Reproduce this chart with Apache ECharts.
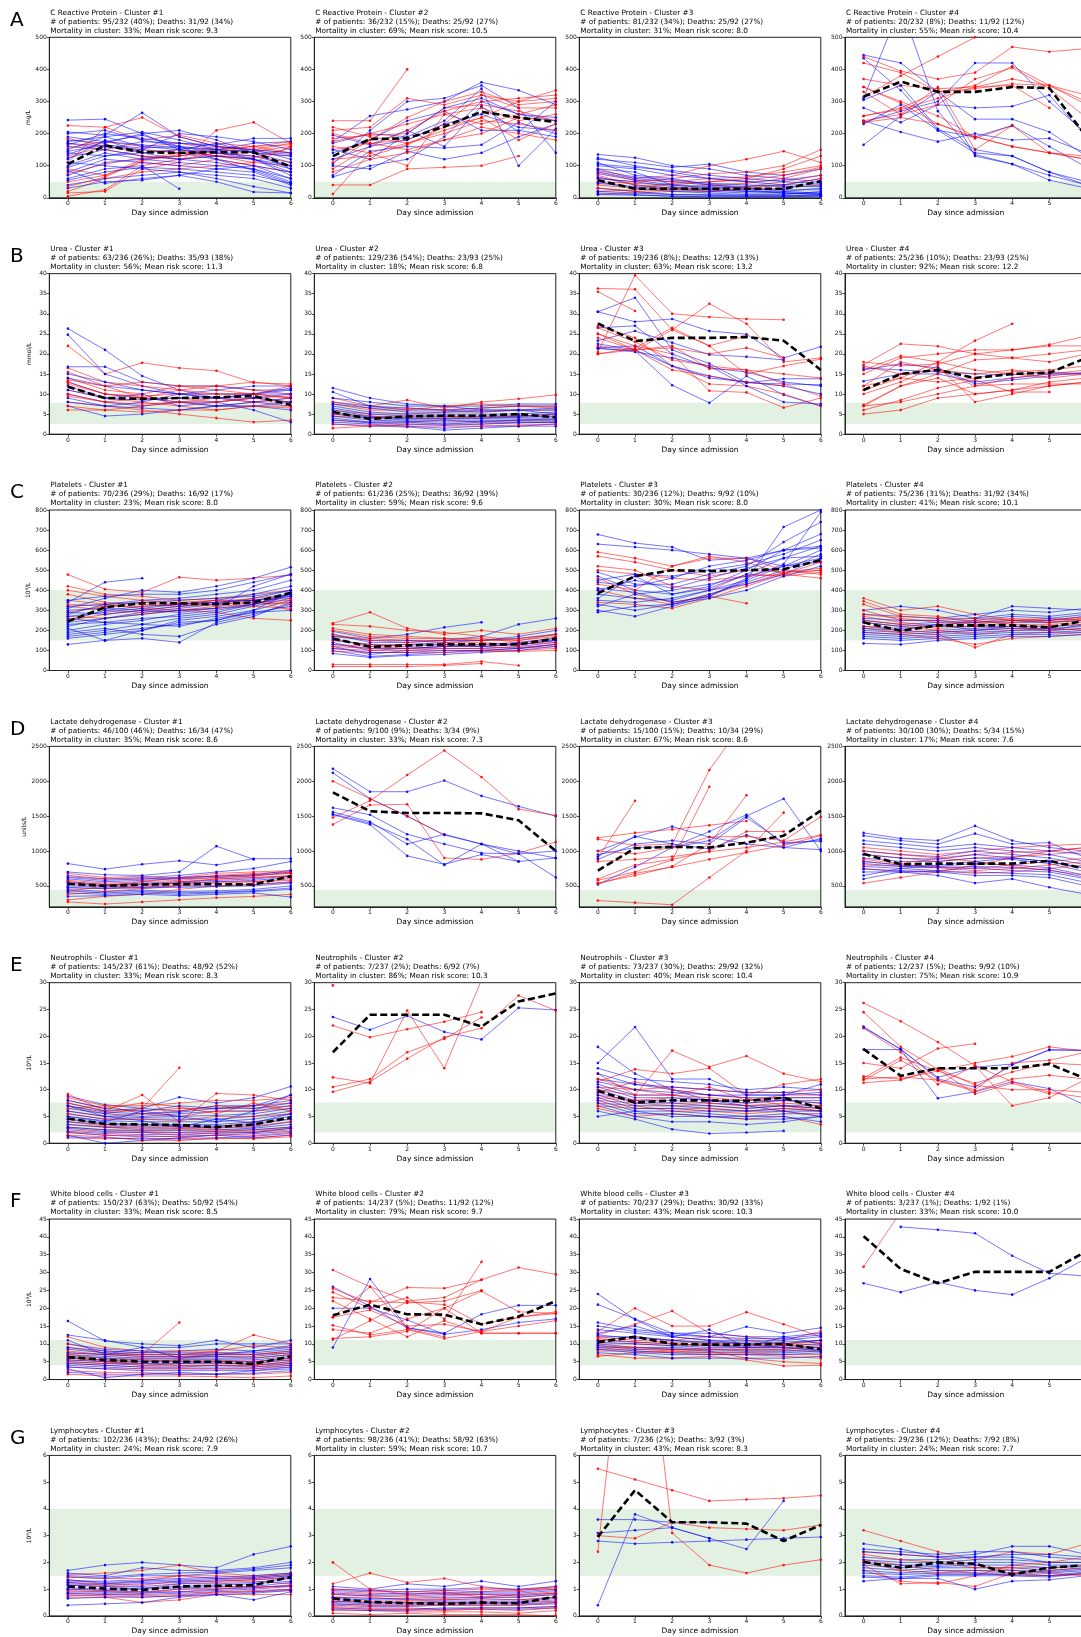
<!DOCTYPE html>
<html>
<head>
<meta charset="utf-8">
<script src="https://cdn.jsdelivr.net/npm/echarts@6/dist/echarts.min.js"></script>
<style>
  html, body { margin: 0; padding: 0; background: #fff; }
  #chart { width: 1081px; height: 1637px; }
</style>
</head>
<body>
<div id="chart"></div>
<script>
// ---- shared labels ----
const days = [0, 1, 2, 3, 4, 5, 6];
const rowLetters = ["A", "B", "C", "D", "E", "F", "G"];
const rowNames = ["C Reactive Protein", "Urea", "Platelets", "Lactate dehydrogenase", "Neutrophils", "White blood cells", "Lymphocytes"];
const rowUnits = ["mg/L", "mmol/L", "10⁹/L", "units/L", "10⁹/L", "10⁹/L", "10⁹/L"];
const rowYMin = [0, 0, 0, 200, 0, 0, 0];
const rowYMax = [500, 40, 800, 2500, 30, 45, 6];
const crpTicks = [0, 100, 200, 300, 400, 500];
const ureaTicks = [0, 5, 10, 15, 20, 25, 30, 35, 40];
const pltTicks = [0, 100, 200, 300, 400, 500, 600, 700, 800];
const ldhTicks = [500, 1000, 1500, 2000, 2500];
const neuTicks = [0, 5, 10, 15, 20, 25, 30];
const wbcTicks = [0, 5, 10, 15, 20, 25, 30, 35, 40, 45];
const lymTicks = [0, 1, 2, 3, 4, 5, 6];
// normal reference range (green band)
const normalLow = [0, 2.5, 150, 200, 2.0, 4.0, 1.5];
const normalHigh = [50, 7.8, 400, 440, 7.6, 11.1, 4.0];

const patientStats = [
  ["# of patients: 95/232 (40%); Deaths: 31/92 (34%)", "# of patients: 36/232 (15%); Deaths: 25/92 (27%)", "# of patients: 81/232 (34%); Deaths: 25/92 (27%)", "# of patients: 20/232 (8%); Deaths: 11/92 (12%)"],
  ["# of patients: 63/236 (26%); Deaths: 35/93 (38%)", "# of patients: 129/236 (54%); Deaths: 23/93 (25%)", "# of patients: 19/236 (8%); Deaths: 12/93 (13%)", "# of patients: 25/236 (10%); Deaths: 23/93 (25%)"],
  ["# of patients: 70/236 (29%); Deaths: 16/92 (17%)", "# of patients: 61/236 (25%); Deaths: 36/92 (39%)", "# of patients: 30/236 (12%); Deaths: 9/92 (10%)", "# of patients: 75/236 (31%); Deaths: 31/92 (34%)"],
  ["# of patients: 46/100 (46%); Deaths: 16/34 (47%)", "# of patients: 9/100 (9%); Deaths: 3/34 (9%)", "# of patients: 15/100 (15%); Deaths: 10/34 (29%)", "# of patients: 30/100 (30%); Deaths: 5/34 (15%)"],
  ["# of patients: 145/237 (61%); Deaths: 48/92 (52%)", "# of patients: 7/237 (2%); Deaths: 6/92 (7%)", "# of patients: 73/237 (30%); Deaths: 29/92 (32%)", "# of patients: 12/237 (5%); Deaths: 9/92 (10%)"],
  ["# of patients: 150/237 (63%); Deaths: 50/92 (54%)", "# of patients: 14/237 (5%); Deaths: 11/92 (12%)", "# of patients: 70/237 (29%); Deaths: 30/92 (33%)", "# of patients: 3/237 (1%); Deaths: 1/92 (1%)"],
  ["# of patients: 102/236 (43%); Deaths: 24/92 (26%)", "# of patients: 98/236 (41%); Deaths: 58/92 (63%)", "# of patients: 7/236 (2%); Deaths: 3/92 (3%)", "# of patients: 29/236 (12%); Deaths: 7/92 (8%)"]
];
const mortalityStats = [
  ["Mortality in cluster: 33%; Mean risk score: 9.3", "Mortality in cluster: 69%; Mean risk score: 10.5", "Mortality in cluster: 31%; Mean risk score: 8.0", "Mortality in cluster: 55%; Mean risk score: 10.4"],
  ["Mortality in cluster: 56%; Mean risk score: 11.3", "Mortality in cluster: 18%; Mean risk score: 6.8", "Mortality in cluster: 63%; Mean risk score: 13.2", "Mortality in cluster: 92%; Mean risk score: 12.2"],
  ["Mortality in cluster: 23%; Mean risk score: 8.0", "Mortality in cluster: 59%; Mean risk score: 9.6", "Mortality in cluster: 30%; Mean risk score: 8.0", "Mortality in cluster: 41%; Mean risk score: 10.1"],
  ["Mortality in cluster: 35%; Mean risk score: 8.6", "Mortality in cluster: 33%; Mean risk score: 7.3", "Mortality in cluster: 67%; Mean risk score: 8.6", "Mortality in cluster: 17%; Mean risk score: 7.6"],
  ["Mortality in cluster: 33%; Mean risk score: 8.3", "Mortality in cluster: 86%; Mean risk score: 10.3", "Mortality in cluster: 40%; Mean risk score: 10.4", "Mortality in cluster: 75%; Mean risk score: 10.9"],
  ["Mortality in cluster: 33%; Mean risk score: 8.5", "Mortality in cluster: 79%; Mean risk score: 9.7", "Mortality in cluster: 43%; Mean risk score: 10.3", "Mortality in cluster: 33%; Mean risk score: 10.0"],
  ["Mortality in cluster: 24%; Mean risk score: 7.9", "Mortality in cluster: 59%; Mean risk score: 10.7", "Mortality in cluster: 43%; Mean risk score: 8.3", "Mortality in cluster: 24%; Mean risk score: 7.7"]
];

// ---- C reactive protein ----
const crp1Blue = [
  [242, 245, 200, 150, 130, 120, 100], [205, 195, 265, 190, 160, 150, 120], [180, 170, 200, 210, 180, 140, 90],
  [160, 150, 175, 170, 165, 185, 185], [140, 130, 150, 140, 120, 100, 60], [120, 180, 140, 120, 110, 90, 50],
  [100, 140, 120, 130, 150, 170, 175], [80, 120, 110, 100, 90, 80, 40], [60, 90, 100, 28, null, null, null],
  [40, 60, 70, 80, 60, 35, 15], [30, 50, 55, 70, 50, 18, 15], [200, 210, 180, 160, 140, 120, 80],
  [150, 190, 160, 150, 170, 140, 130], [110, 100, 90, 80, 70, 60, 30], [170, 160, 150, 200, 190, 175, 150],
  [190, 175, 165, 155, 150, 145, 135], [165, 200, 185, 170, 160, 150, 140], [145, 165, 155, 160, 150, 140, 110],
  [125, 150, 130, 120, 130, 120, 90], [95, 130, 140, 150, 140, 130, 100], [70, 110, 120, 110, 100, 90, 60],
  [55, 80, 95, 90, 80, 70, 45], [85, 45, 60, 70, 90, 100, 80], [175, 190, 205, 180, 150, 120, 70],
  [135, 175, 195, 160, 120, 85, 45]
];
const crp1Red = [
  [225, 220, 250, 190, 160, 140, 130], [15, 20, 90, 110, 210, 235, 170], [5, 25, 100, 120, 130, 145, 160],
  [90, 70, 120, 140, 150, 160, 175], [170, 150, 130, 120, 140, 130, 110], [130, 160, 140, 150, 130, 110, 100],
  [50, 70, 110, 100, 120, 100, 80], [20, 60, 80, 90, 100, 110, 160], [110, 220, 180, 195, 170, 160, 140],
  [155, 175, 160, 170, 150, 160, 165], [75, 105, 125, 130, 145, 150, 170], [35, 65, 115, 135, 160, 150, 140],
  [185, 160, 150, 140, 130, 125, 155]
];
const crp1Mean = [105, 163, 142, 140, 142, 142, 97];

const crp2Blue = [
  [175, 255, 275, 300, 360, 335, 290], [105, 210, 300, 310, 350, 280, 140], [70, 145, 160, 155, 165, 235, 200],
  [100, 90, 145, 120, 140, 190, 230], [170, 200, 190, 240, 340, 100, 215], [140, 180, 240, 270, 210, 210, 190],
  [65, 100, 120, 190, 300, 260, 250], [195, 165, 210, 160, 285, 205, 300], [120, 160, 180, 230, 260, 220, 210],
  [150, 120, 200, 280, 310, 260, 240]
];
const crp2Red = [
  [240, 240, 400, null, null, null, null], [40, 40, 90, 95, 100, 130, null], [12, 140, 170, 210, 250, 300, 335],
  [210, 220, 310, 290, 320, 300, 310], [185, 195, 200, 280, 290, 270, 240], [150, 170, 180, 230, 320, 280, 280],
  [120, 130, 165, 220, 250, 180, 230], [90, 160, 210, 270, 300, 310, 320], [200, 170, 150, 180, 200, 250, 240],
  [160, 140, 100, 260, 230, 260, 290], [175, 200, 230, 260, 280, 240, 260], [110, 180, 250, 300, 330, 290, 300],
  [220, 190, 170, 200, 240, 230, 210], [80, 120, 140, 180, 220, 200, 180]
];
const crp2Mean = [130, 183, 185, 222, 268, 250, 236];

const crp3Blue = [
  [135, 125, 100, 90, 70, 60, 50], [120, 110, 95, 105, 80, 70, 90], [100, 90, 70, 60, 50, 55, 70],
  [80, 60, 50, 40, 35, 40, 60], [65, 40, 30, 25, 20, 20, 30], [50, 30, 20, 15, 10, 10, 20],
  [30, 20, 10, 8, 5, 5, 10], [15, 10, 5, 3, 3, 3, 5], [110, 70, 60, 40, 30, 20, 15], [90, 80, 40, 30, 25, 15, 10],
  [125, 100, 80, 60, 50, 40, 40], [105, 95, 85, 70, 60, 50, 45], [75, 55, 40, 35, 30, 25, 25],
  [45, 35, 25, 20, 15, 15, 15], [20, 15, 10, 10, 8, 8, 8], [60, 50, 35, 25, 20, 15, 12],
  [85, 65, 55, 45, 40, 35, 35], [10, 8, 5, 5, 5, 5, 5]
];
const crp3Red = [
  [90, 60, 70, 100, 120, 145, 110], [60, 50, 60, 75, 80, 100, 150], [40, 30, 45, 50, 60, 90, 130],
  [20, 25, 30, 40, 45, 60, 90], [10, 15, 20, 20, 30, 40, 60], [70, 40, 30, 20, 25, 30, 40],
  [50, 45, 40, 50, 55, 70, 95], [30, 20, 25, 30, 35, 50, 70], [80, 55, 50, 60, 65, 80, 100]
];
const crp3Mean = [55, 28, 28, 28, 28, 28, 52];

const crp4Blue = [
  [445, 420, 330, 130, 105, 55, 30], [435, 335, 210, 140, 130, 80, 40], [310, 600, 270, 135, 105, 70, 40],
  [280, 235, 290, 280, 285, 320, 190], [235, 270, 300, 420, 420, 300, 200], [165, 255, 330, 245, 245, 205, 130],
  [240, 205, 175, 200, 180, 185, 140], [230, 290, 210, 190, 225, 160, 95], [305, 350, 215, 150, 130, 80, 50]
];
const crp4Red = [
  [315, 380, 440, 500, 560, null, null], [440, 395, 370, 390, 470, 455, 465], [420, 390, 330, 350, 410, 350, 300],
  [370, 350, 340, 345, 370, 350, 320], [345, 300, 255, 190, 160, 140, 120], [345, 295, 230, 185, 225, null, null],
  [255, 275, 310, 345, 350, 280, null], [240, 260, 290, 370, 405, 340, 250], [330, 260, 345, 150, 225, 140, 130],
  [255, 280, 330, 340, 355, 350, 290], [235, 250, 230, 190, 160, 140, 120]
];
const crp4Mean = [315, 362, 330, 330, 345, 342, 190];

// ---- urea ----
const urea1Blue = [
  [26.3, 21, 14.5, 11, 9, 8, 7], [24.8, 15, 12, 10, 11, 12, 12], [16.8, 16.8, 13, 12, 12, 11, 11],
  [13, 10, 9, 8, 8, 9, 10], [10, 8, 7, 8, 7, 7, 8], [7, 4.5, 5, 6, 7, 7, 6], [9, 7, 8, 10, 9, 10, 11.5],
  [12, 9, 10, 7, 8, 6, 3], [15, 13, 11, 10, 10, 10, 10], [11, 9, 8.5, 9, 9, 10, 11],
  [8, 7, 6.5, 6, 7, 8, 9], [14, 12, 11, 10, 9, 9, 8]
];
const urea1Red = [
  [22, 15, 17.8, 16.5, 15.8, 12.8, 12.5], [16.5, 13, 12, 11, 10, 10, 9], [14, 11, 10, 12, 12, 11, 10],
  [13, 10, 9, 8, 7, 8, 9], [11, 9, 8, 7, 6, 7, 7], [8, 7, 6, 5, 4, 3, 3.5], [6, 6, 7, 8, 9, 8, 8],
  [15.5, 12, 9, 9, 8, 9, 8], [10, 8, 9, 11, 12, 13, 12], [12.5, 10, 9.5, 10, 10, 10, 9],
  [9.5, 8, 7.5, 8, 8, 9, 9.5], [13.5, 12, 13, 12, 11, 10, 12], [7, 6, 5.5, 6, 6, 7, 6.5]
];
const urea1Mean = [11.8, 9, 8.8, 9, 9.2, 9.5, 7.3];

const urea2Blue = [
  [11.5, 9, 7.5, 7, 7, 7.5, 7.5], [10.5, 7, 6, 6, 5.5, 6, 5], [8, 7, 6.5, 6, 6.5, 7, 7],
  [7, 5.5, 5, 5, 5, 5, 5.5], [6, 4.5, 4, 4, 4, 4, 4], [5, 4, 3.5, 3.5, 3.5, 3.5, 3.5],
  [4, 3, 3, 2.5, 3, 3, 3], [3, 2.5, 2, 1.5, 2, 2, 2], [2.5, 2, 1.8, 1, 1.5, 2, 2.5],
  [9, 8, 7, 7, 6, 6, 6.5], [7.5, 6.5, 5.5, 5.5, 6, 6, 6], [6.5, 5, 4.5, 4.5, 4.5, 4.5, 5],
  [5.5, 4.2, 3.8, 3.8, 4, 4.2, 4.5], [4.5, 3.5, 3.2, 3, 3.2, 3.5, 3.8], [3.5, 2.8, 2.5, 2.2, 2.5, 2.8, 3]
];
const urea2Red = [
  [9, 7, 8.5, 6.5, 8, 8.8, 9.8], [7.5, 6, 6, 7, 7.5, 7, 6.5], [6, 5, 5, 5.5, 5.5, 6, 6],
  [4.5, 4, 4.5, 4.5, 4, 4.5, 5], [3.5, 3, 3, 3.5, 3, 3.5, 3.5], [1.5, 2, 2.5, 2.5, 2.5, 3, 3],
  [8, 6.5, 6.5, 6, 6.5, 7, 7], [5, 4.5, 4, 4, 4.5, 4.5, 4.5], [2.5, 2.2, 2, 2, 2, 2.3, 2.5]
];
const urea2Mean = [5.5, 3.8, 4.4, 4.6, 4.6, 5, 4.2];

const urea3Blue = [
  [30.5, 34, 21, 17.6, 12.8, 12.5, 12.3], [30.5, 28, 28.7, 25.7, 24.9, 19, 21.8], [21.5, 22, 17, 14.5, 12.8, 13.8, 13.8],
  [23.3, 25.7, 22.8, 19.8, 19.3, 18.5, null], [21.3, 20.8, 12.2, 7.8, 14.5, 9.8, 7], [26.5, 27, 20, 16.5, 15.5, 13, 12],
  [21.5, 20.5, 19, 17, 12, 8, 7.5], [22.5, 21, 17, 14, 13, 12, 10]
];
const urea3Red = [
  [36.3, 36.1, 26, 32.5, 27.5, 18, 19], [35.5, 30.7, null, null, null, null, null], [20.5, 39.6, 30, 29.2, 28.7, 28.5, null],
  [25, 22, 20, 10.8, 10.4, 6.6, 9], [27, 24, 17, 12.5, 12, 10, 7], [20, 21, 22, 16.3, 16, 12.5, 9.5],
  [22, 20.8, 26, 22, 15, 17, 18.7], [24, 21, 21.5, 20, 21.5, 19, null], [26.5, 23, 18.5, 17, 16, 15, 14],
  [20, 21.5, 26.5, 22, 24.5, null, null], [25, 21, 16, 14.5, 13, 12, null]
];
const urea3Mean = [27.6, 23.2, 24, 24, 24.2, 23.3, 16];

const urea4Blue = [
  [16, 17.5, 16.5, 12.5, 13.5, 14.5, 15.5], [13.2, 15, 15, 13, 14, 15, 15], [16.5, 16, 15.5, 15, 14.8, 15.5, 15]
];
const urea4Red = [
  [18, 17, 17.5, 20, 21, 22.3, 24.5], [16, 19.5, 18, 23.3, 27.5, null, null], [17, 15, 16, 15, 16, 15, 15],
  [15, 19, 20, 21, 21, 22, 22], [12, 18, 16, 12, 12.5, 12.5, 12.5], [11, 14, 13, 14, 15.5, 16, 17],
  [7.3, 12, 15, 18.5, 19, 20, 21], [7, 8, 10, 12, 14, 15, 16], [6, 8.5, 11.5, 13.5, 10.5, 10.5, null],
  [5, 6, 9, 10, 11, 12, 13], [7, 12, 14, 10, 11, 13, 14], [12, 14, 18, 16, 15, 14, 15],
  [10, 13, 17, 8, 10, 12, 13], [17.3, 22.5, 21.9, 20, 19, 18, 20]
];
const urea4Mean = [11, 15, 16, 14, 15, 15.3, 19];

// ---- platelets ----
const plt1Blue = [
  [130, 150, 160, 140, 240, 280, 330], [160, 180, 200, 250, 270, 300, 350], [180, 200, 230, 260, 280, 320, 360],
  [200, 230, 250, 280, 300, 330, 380], [220, 260, 290, 310, 330, 360, 400], [250, 300, 320, 330, 350, 380, 420],
  [280, 330, 350, 360, 380, 400, 450], [310, 360, 400, 390, 420, 460, 515], [340, 440, 460, null, null, null, null],
  [260, 240, 230, 220, 260, 290, 300], [190, 210, 180, 170, 230, 270, 340], [300, 310, 300, 320, 340, 350, 370],
  [240, 260, 280, 300, 310, 420, 480], [210, 150, 200, 240, 250, 300, 390], [230, 240, 260, 270, 290, 330, 370],
  [270, 290, 310, 330, 340, 350, 380], [320, 330, 340, 350, 360, 370, 400], [170, 190, 210, 230, 250, 290, 320],
  [290, 280, 300, 290, 310, 330, 380], [350, 370, 380, 380, 400, 440, 480]
];
const plt1Red = [
  [478, 405, 390, 465, 450, 460, 475], [420, 380, 370, 350, 360, 380, 400], [380, 340, 330, 320, 330, 340, 330],
  [350, 330, 310, 300, 310, 320, 310], [320, 300, 290, 300, 290, 260, 250], [290, 320, 340, 330, 350, 350, 300],
  [270, 260, 280, 300, 320, 330, 340], [330, 320, 320, 330, 340, 360, 380], [250, 280, 300, 320, 330, 340, 350],
  [400, 370, 350, 340, 350, 350, 360]
];
const plt1Mean = [245, 315, 335, 335, 330, 340, 388];

const plt2Blue = [
  [195, 160, 180, 215, 240, null, null], [180, 140, 140, 150, 170, 230, 260], [160, 120, 130, 140, 150, 170, 200],
  [140, 100, 110, 120, 130, 140, 160], [120, 80, 100, 110, 110, 120, 140], [100, 70, 80, 90, 100, 110, 130],
  [85, 65, 75, 80, 90, 100, 120], [150, 130, 120, 130, 120, 130, 150], [170, 150, 150, 150, 150, 160, 180],
  [130, 110, 110, 120, 120, 130, 150], [110, 90, 90, 100, 100, 110, 130]
];
const plt2Red = [
  [235, 290, 210, 180, 200, 180, 210], [230, 220, 200, 190, 170, 150, 180], [210, 180, 170, 160, 160, 140, 160],
  [170, 160, 150, 140, 140, 130, 150], [130, 120, 110, 120, 120, 110, 120], [110, 100, 100, 100, 100, 100, 110],
  [95, 90, 90, 90, 95, 95, 100], [30, 30, 30, 30, 45, 25, null], [20, 20, 20, 25, 35, null, null],
  [200, 170, 160, 160, 150, 160, 180], [150, 130, 130, 130, 130, 130, 140], [120, 110, 110, 110, 110, 115, 130],
  [180, 150, 140, 150, 150, 150, 170]
];
const plt2Mean = [160, 118, 125, 130, 130, 130, 160];

const plt3Blue = [
  [678, 635, 615, 550, 560, 600, 620], [630, 615, 600, 580, 560, 520, 540], [490, 430, 430, 480, 520, 640, 740],
  [470, 400, 380, 420, 500, 600, 680], [410, 390, 340, 370, 460, 530, 790], [380, 360, 350, 400, 450, 520, 600],
  [350, 340, 360, 400, 430, 480, 560], [330, 300, 330, 380, 440, 500, 580], [300, 270, 320, 370, 450, 715, 800],
  [290, 320, 330, 360, 400, 470, 520], [440, 420, 460, 520, 550, 600, 610], [360, 470, 380, 410, 480, 560, 570],
  [320, 380, 400, 430, 470, 520, 560], [400, 450, 410, 460, 510, 560, 620], [450, 480, 470, 500, 530, 580, 650]
];
const plt3Red = [
  [590, 560, 520, 570, 540, 480, 460], [570, 540, 500, 470, 500, 490, 500], [520, 500, 420, 400, 480, 470, 490],
  [460, 380, 340, 370, 335, null, null], [400, 360, 330, 380, 430, 490, 510], [340, 330, 310, 360, 420, 480, 540],
  [430, 400, 520, 560, 560, 500, 480], [500, 480, 460, 450, 470, 480, 500]
];
const plt3Mean = [385, 470, 500, 495, 500, 505, 550];

const plt4Blue = [
  [300, 320, 300, 260, 320, 310, 300], [280, 270, 260, 280, 300, 290, 310], [250, 230, 240, 250, 270, 260, 280],
  [220, 210, 220, 220, 240, 240, 250], [200, 190, 200, 210, 220, 220, 230], [180, 170, 180, 190, 200, 200, 210],
  [160, 150, 160, 170, 180, 180, 190], [135, 130, 150, 160, 170, 170, 180], [210, 200, 230, 200, 220, 200, 230],
  [260, 250, 250, 260, 280, 270, 290], [240, 220, 230, 240, 250, 250, 270], [190, 180, 190, 200, 210, 210, 220],
  [170, 160, 170, 180, 190, 190, 200]
];
const plt4Red = [
  [360, 300, 320, 280, 250, 260, 250], [345, 280, 270, 240, 260, 250, 270], [300, 250, 250, 230, 250, 240, 260],
  [270, 240, 220, 250, 230, 230, 240], [240, 220, 200, 180, 200, 210, 200], [210, 190, 180, 115, 180, 190, 190],
  [190, 180, 160, 130, 160, 170, 180], [280, 260, 240, 240, 240, 250, 260], [250, 230, 210, 220, 220, 220, 230],
  [220, 200, 190, 200, 210, 200, 210], [330, 270, 260, 260, 250, 240, 250]
];
const plt4Mean = [240, 198, 225, 225, 225, 215, 250];

// ---- lactate dehydrogenase ----
const ldh1Blue = [
  [820, 740, 810, 860, 800, 890, 890], [700, 660, 650, 700, 1070, 880, null], [650, 600, 620, 650, 700, 750, 850],
  [600, 560, 580, 600, 620, 640, 700], [560, 520, 540, 560, 580, 600, 640], [500, 480, 480, 500, 500, 520, 560],
  [450, 420, 440, 420, 430, 450, 500], [400, 380, 400, 380, 400, 420, 450], [350, 360, 380, 360, 380, 400, 340],
  [620, 580, 600, 620, 640, 660, 720], [540, 500, 520, 540, 560, 580, 620], [480, 460, 470, 480, 490, 500, 540],
  [430, 400, 420, 400, 410, 430, 470]
];
const ldh1Red = [
  [680, 620, 640, 600, 650, 680, 700], [580, 540, 560, 620, 680, 700, 720], [520, 500, 480, 520, 560, 560, 600],
  [470, 460, 500, 540, 600, 620, 650], [420, 500, 560, 580, 620, 650, 680], [300, 350, 380, 450, 500, 520, 550],
  [270, 240, 270, 300, 330, 350, 380], [630, 600, 600, 620, 640, 660, 680], [560, 520, 520, 560, 600, 620, 640],
  [380, 420, 460, 500, 540, 560, 580]
];
const ldh1Mean = [530, 500, 520, 525, 525, 520, 640];

const ldh2Blue = [
  [2180, 1850, 1850, 2010, 1790, 1640, 1500], [2120, 1750, 1500, 1230, 1100, 960, 1000], [1620, 1520, 1240, 1100, 970, 960, 620],
  [1530, 1400, 1170, 800, 1100, 850, 900], [1520, 1380, 930, 810, 950, 850, null], [1560, 1420, 1100, 1240, 1100, 1000, 900]
];
const ldh2Red = [
  [1380, 1660, 1670, 900, 880, 970, 1130], [1480, 1720, 2090, 2440, 2060, 1600, 1510], [2000, 1750, 1500, 1230, null, null, null]
];
const ldh2Mean = [1840, 1570, 1545, 1545, 1540, 1440, 1000];

const ldh3Blue = [
  [1000, 1200, 1350, 1200, 1100, 1050, 1020], [950, 1050, 1060, 1280, 1520, 1100, 1160], [520, 770, 1050, 1150, 1500, 1750, 1000],
  [920, 1210, 1100, 1030, 1230, 1050, 1180], [880, 1100, 1150, 1100, 1480, 1120, 1140]
];
const ldh3Red = [
  [1190, 1260, 1310, 1370, 1430, null, null], [1170, 1080, 1100, 2160, 2900, null, null], [900, 1720, null, null, null, null, null],
  [580, 700, 870, 1920, null, null, null], [540, 650, 780, 1100, 1800, null, null], [600, 800, 880, 1000, 1280, 1280, null],
  [290, 260, 230, 620, 1000, 1550, null], [530, 680, 770, 880, 980, 1080, 1220], [850, 880, 920, 990, 1050, 1130, 1230],
  [1000, 960, 1050, 1200, 1210, 1150, 1490]
];
const ldh3Mean = [720, 1040, 1060, 1050, 1120, 1220, 1580];

const ldh4Blue = [
  [1260, 1180, 1150, 1360, 1150, 1050, 1000], [1220, 1150, 1100, 1250, 1100, 1120, 900], [1100, 1050, 1000, 1050, 1000, 950, 850],
  [1000, 950, 920, 1000, 950, 900, 800], [900, 850, 850, 900, 880, 820, 700], [850, 800, 780, 820, 800, 760, 650],
  [780, 750, 720, 760, 720, 700, 600], [700, 700, 700, 650, 650, 620, 500], [600, 700, 650, 540, 600, 480, 380],
  [650, 750, 800, 850, 900, 850, 750], [1150, 1100, 1050, 1100, 1050, 1000, 950], [950, 900, 880, 950, 900, 850, 750],
  [820, 780, 760, 780, 760, 730, 620], [740, 720, 700, 700, 680, 660, 550]
];
const ldh4Red = [
  [1050, 1000, 950, 1000, 1050, 1080, 1100], [950, 900, 850, 900, 920, 950, 1000], [850, 800, 780, 750, 800, 850, 900],
  [750, 700, 720, 680, 700, 750, 800], [540, 620, 700, 800, 900, 1000, 1050], [880, 820, 900, 850, 780, 720, 650],
  [1000, 950, 900, 950, 980, 1000, 1050], [800, 780, 760, 720, 750, 800, 850]
];
const ldh4Mean = [960, 810, 820, 820, 820, 860, 740];

// ---- neutrophils ----
const neu1Blue = [
  [8.8, 7.2, 6.5, 8.6, 7.5, 8.5, 10.6], [7.5, 6, 6.5, 6, 7, 7, 8], [6.5, 5.5, 5, 5.5, 6, 6, 7],
  [5.5, 4.5, 4.5, 4.5, 4.5, 5, 6], [4.5, 3.8, 3.5, 3.5, 3.5, 4, 5], [3.5, 3, 2.8, 2.8, 3, 3, 4],
  [2.8, 2.2, 2, 2, 2.2, 2.5, 3], [2, 1.5, 1.2, 1.3, 1.5, 1.8, 2.2], [1.5, 0, 0.5, 1, 1.5, 1, 1.5],
  [5, 4, 6, 5, 4, 6, 9], [7, 5, 4.2, 3, 4.5, 3.8, 5.5], [8, 6.5, 6, 7, 6.5, 7, 9],
  [7, 5.8, 5.5, 5.8, 6.5, 6.5, 7.5], [6, 5, 4.8, 5, 5.2, 5.5, 6.5], [5, 4.2, 4, 4, 4, 4.5, 5.5],
  [4, 3.5, 3.2, 3.2, 3.2, 3.5, 4.5], [3, 2.5, 2.4, 2.4, 2.5, 2.8, 3.5], [2.2, 1.8, 1.6, 1.7, 1.8, 2, 2.8],
  [1.2, 1, 0.8, 0.9, 1, 1.3, 1.8]
];
const neu1Red = [
  [9.2, 6, 9, 4, 9.3, 9, 8], [7, 5.5, 6.5, 14.1, null, null, null], [6, 5, 5.5, 5, 6, 6, 6.5],
  [4.5, 3.5, 3.5, 3, 3, 4, 4.5], [3.5, 3, 2.5, 2.5, 2.5, 2.5, 3], [2.5, 2, 2, 1.5, 2, 2, 2.5],
  [1, 0.8, 1, 0.5, 1, 0.8, 1.2], [6.5, 7, 5.5, 6, 7, 6.5, 7], [8, 6.5, 7.5, 6.8, 5.5, 7.5, 6],
  [8.5, 7, 7, 7.5, 8, 8, 8.5], [7.5, 6, 6, 6.5, 6.5, 7, 7.5], [5.5, 4.5, 4.5, 4.2, 5, 5, 5.5],
  [4, 3.2, 3, 2.8, 2.8, 3.2, 4], [3, 2.5, 2.2, 2, 2.2, 2.2, 2.8], [2, 1.5, 1.4, 1.2, 1.5, 1.5, 2],
  [1.5, 1.2, 0.5, 0.6, 0.8, 1, 1.5]
];
const neu1Mean = [4.6, 3.6, 3.5, 3.4, 3.0, 3.5, 4.8];

const neu2Blue = [
  [23.6, 21.2, 23.8, 20.8, 19.4, 25.3, 24.9]
];
const neu2Red = [
  [22, 19.8, 21.3, 22.7, 24.5, null, null], [29.5, null, null, null, null, null, null], [12.3, 11.2, 24.8, 14, 30.5, null, null],
  [10.5, 12, 17, 19.5, 23.5, null, null], [9.6, 11.5, 15.8, 19.8, 21.5, 27.6, 24.8]
];
const neu2Mean = [17, 24, 24, 24, 21.8, 26.5, 28];

const neu3Blue = [
  [18, 13, 10, 8, 7, 6, 5], [15, 21.7, 12, 12, 9, 9, 11], [14, 12, 11.5, 11, 10, 10.5, 10],
  [12, 11, 10, 9, 9, 9, 9.5], [11, 9, 9, 8, 8, 8, 8], [10, 8, 8, 7.5, 7, 7, 7],
  [9, 7, 7, 6.5, 6, 6.5, 6], [8, 6, 6, 5.5, 5, 5.5, 5.5], [7, 5, 4, 4, 3.5, 4, 5],
  [6, 4.5, 2.6, 1.8, 2, 2.3, null], [5, 6, 5, 5, 5, 5, 4], [13, 11, 10.5, 10, 9.5, 9.5, 9],
  [11.5, 10, 9.5, 9, 8.5, 8.5, 8.5], [10.5, 8.5, 8.5, 8, 7.5, 8, 7.5], [9.5, 7.5, 7.5, 7, 6.5, 7, 6.5],
  [8.5, 6.5, 6.5, 6, 6, 6, 6], [7.5, 5.5, 5.5, 5, 4.5, 4.5, 5]
];
const neu3Red = [
  [13, 9, 17.3, 14.3, 16.3, 13, 11.5], [11.5, 13.8, 13, 14, 9, 11, 12], [10.5, 10, 9, 10.5, 8, 9, 9],
  [9, 8, 8.5, 8, 7.5, 8, 7.5], [8, 7.5, 7, 7, 6.5, 7, 6.5], [7.5, 7, 6, 6, 5.5, 6, 5],
  [6.5, 5, 5.5, 5, 4.5, 5, 3.5], [9.5, 11.5, 10, 9, 8.5, 7, 6], [12, 10, 10.5, 10, 9.5, 9.5, 10],
  [10, 9, 9, 8.5, 8, 8.5, 8.5], [8.5, 8, 7.5, 7.5, 7, 7.5, 7], [7, 6.5, 6.5, 6.5, 6, 6.5, 6]
];
const neu3Mean = [9.8, 7.6, 8, 8, 7.9, 8.5, 6.5];

const neu4Blue = [
  [21.8, 17.5, 8.4, 9.6, 11.5, 10.2, 7], [21.6, 17.6, 12, 10.5, 14.6, 17.5, 17.4], [17.5, 17.5, 12.3, 14.2, 14.8, 17.4, 17.3]
];
const neu4Red = [
  [26.2, 22.8, 18.9, 14.5, 11.5, 9.5, 8.5], [24.5, 18, 13.8, 9.2, 11.2, 9.2, null], [21.5, 17, 11, 14.5, 7, 8.5, 12],
  [15, 14, 17.7, 18.6, null, null, null], [12.5, 12, 13.5, 15, 16.2, 18, 17.2], [12.2, 16, 13.5, 11.2, 13.3, 15, 14.6],
  [11.3, 11.8, 14, 10.8, 10, 10, 9.5], [11.8, 15.5, 11.7, 9.7, 12, 12.7, 12], [12, 12.4, 11.8, 10, 15, 15.5, 17]
];
const neu4Mean = [17.6, 12.6, 14, 14, 14, 14.8, 12];

// ---- white blood cells ----
const wbc1Blue = [
  [16.4, 10.8, 10, 9.5, 11, 9, 11], [12.5, 11, 9, 9, 10, 10, 10], [10, 8.5, 8, 8, 8.5, 8, 9],
  [8.5, 7.5, 7, 7, 7, 7, 8], [7, 6.5, 6, 6, 6, 6, 7], [6, 5.5, 5, 5, 5, 5, 6],
  [5, 4.5, 4, 4, 4, 4, 5], [4, 3.5, 3, 3, 3, 3, 4], [3, 0.5, 1.5, 2, 1.5, 2.5, 3],
  [11, 7, 9, 6, 7, 8, 9.5], [9, 8, 7.5, 7.5, 7.5, 7.5, 8.5], [7.5, 7, 6.5, 6.5, 6.5, 6.5, 7.5],
  [6.5, 6, 5.5, 5.5, 5.5, 5.5, 6.5], [5.5, 5, 4.5, 4.5, 4.5, 4.5, 5.5], [4.5, 4, 3.5, 3.5, 3.5, 3.5, 4.5],
  [3.5, 3, 2.5, 2.5, 2.5, 2.5, 3.5], [2, 1.5, 1.5, 1.5, 1.5, 1.8, 2.5]
];
const wbc1Red = [
  [9, 7.5, 7, 16, null, null, null], [12, 9, 8, 7, 8, 12.5, 10], [10, 8, 7.5, 8, 8, 9.5, 9],
  [7.5, 7, 6.5, 6.5, 7, 7, 7.5], [5.5, 5, 5, 5.5, 5.5, 5, 5.5], [4.5, 4, 3.5, 3.5, 4, 3.5, 4],
  [2.5, 2, 2, 1.5, 1.5, 1.5, 2], [1.5, 1, 1, 1, 0.8, 0.5, 1], [6.5, 5, 4, 4.5, 5, 4, 4.5],
  [8, 7, 7, 7, 7.5, 7, 8], [7, 6, 6, 6, 6.5, 6, 7], [6, 5.5, 5.5, 5, 5, 5, 6],
  [5, 4.5, 4.5, 4, 4, 4, 5], [3.5, 3, 3, 3, 3, 3, 3.5]
];
const wbc1Mean = [6.3, 5.5, 5, 5, 5, 4.4, 6.5];

const wbc2Blue = [
  [26, 20.5, 14.5, 13, 18.3, 20.8, 20.8], [20, 20, 16.7, 12.7, 14, 16, 17], [9, 28.2, 14.5, 12.7, null, null, null]
];
const wbc2Red = [
  [30.7, 26, 22, 23, 28, null, null], [25.5, 21.5, 25.8, 25.6, 28, 31.4, 29.5], [24.5, 20, 23, 17, 33, null, null],
  [23, 22, 21.5, 22, 25, null, null], [22, 17, 12, 16.5, 13, 13, 13], [17.5, 19.5, 15, 15.5, 13.5, 15, 16.5],
  [15.2, 12.5, 14, 11.5, 13.5, 17.5, 18.5], [14, 13, 17, 20, 24.8, 19, 18.5], [11.5, 12, 13.5, 20, 13, 13, 13],
  [11.2, 16.5, 21.8, 21, 15.5, 17.5, 19], [17.5, 26, 14.2, 12, null, null, null]
];
const wbc2Mean = [18, 21, 18.3, 18.2, 15.5, 17.7, 22];

const wbc3Blue = [
  [24, 16.8, 12, 11, 10, 9, 8], [21, 17, 13, 12, 14.8, 13, 14.5], [16, 14, 13, 13, 12, 12, 13],
  [14, 13, 12, 11, 11, 11, 12], [12, 12, 11, 10, 10, 10, 11], [11, 10.5, 10, 9.5, 9, 9.5, 10],
  [10, 9, 9, 8.5, 8.5, 8.5, 9], [9, 8, 7.5, 7.5, 7.5, 7.5, 8], [7.5, 7, 6, 6, 6, 6, 6.5],
  [13, 15, 12, 14, 9, 12, 10], [15, 13.5, 12.5, 12, 11.5, 11.5, 12.5], [12.5, 11.5, 11, 10.5, 10.5, 10.5, 11],
  [10.5, 10, 9.5, 9, 9, 9, 9.5], [9.5, 8.5, 8.5, 8, 8, 8, 8.5], [8.5, 7.5, 7, 7, 7, 7, 7.5]
];
const wbc3Red = [
  [13.5, 20, 15, 15, 18.9, 15.5, 12], [12.5, 15.5, 19.2, 13, 12, 11, 13.5], [11, 12, 11, 12, 11, 10, 11],
  [10, 10, 9.5, 10, 9, 9, 9], [9, 9, 8.5, 8.5, 8, 8, 8], [8, 8, 7.5, 7, 7, 6.5, 6],
  [7, 6, 6, 6.5, 5.5, 3.8, 4], [6.5, 7.5, 8, 8, 6, 5, 4.5], [12, 11, 10.5, 10.5, 10, 10, 10.5],
  [11.5, 10.5, 10, 9.5, 9.5, 9.5, 10], [9.5, 9, 8.5, 8.5, 8.5, 8.5, 9], [8.5, 8.5, 8, 7.5, 7.5, 7, 7]
];
const wbc3Mean = [10.5, 12, 10, 9.8, 9.8, 10, 8.5];

const wbc4Blue = [
  [27, 24.5, 27.3, 25, 23.8, 28.4, 34], [null, 42.8, 42, 41, 34.7, 29.8, 29]
];
const wbc4Red = [
  [31.6, 47, null, null, null, null, null]
];
const wbc4Mean = [40.2, 31, 27, 30.2, 30.2, 30.2, 36];

// ---- lymphocytes ----
const lym1Blue = [
  [1.7, 1.9, 2, 1.9, 1.8, 2.3, 2.6], [1.6, 1.5, 1.8, 1.7, 1.7, 1.8, 2], [1.45, 1.4, 1.5, 1.5, 1.6, 1.7, 1.8],
  [1.3, 1.3, 1.35, 1.4, 1.45, 1.5, 1.6], [1.2, 1.15, 1.2, 1.25, 1.3, 1.35, 1.45], [1.05, 1, 1.05, 1.1, 1.15, 1.2, 1.3],
  [0.9, 0.9, 0.9, 1, 1, 1.05, 1.15], [0.75, 0.8, 0.8, 0.85, 0.9, 0.9, 1], [0.4, 0.45, 0.5, 0.7, 0.8, 0.6, 0.9],
  [1.5, 1.45, 1.55, 1.6, 1.65, 1.75, 1.9], [1.35, 1.25, 1.3, 1.35, 1.4, 1.45, 1.55], [1.15, 1.1, 1.1, 1.2, 1.2, 1.25, 1.4],
  [1, 0.95, 1, 1.05, 1.1, 1.1, 1.25], [0.85, 0.85, 0.85, 0.9, 0.95, 1, 1.1], [0.65, 0.7, 0.7, 0.75, 0.8, 0.85, 0.95],
  [1.25, 1.2, 1.25, 1.3, 1.35, 1.4, 1.5]
];
const lym1Red = [
  [1.55, 1.6, 1.7, 1.9, 1.6, 1.5, 1.6], [1.35, 1.2, 1.3, 1.5, 1.4, 1.4, 1.5], [1.15, 1.1, 1, 1.2, 1.25, 1.3, 1.2],
  [1, 0.95, 0.9, 0.9, 1, 1.1, 1.1], [0.85, 0.8, 0.75, 0.8, 0.85, 0.9, 0.95], [0.7, 0.7, 0.5, 0.6, 0.8, 0.8, 0.8],
  [1.45, 1.4, 1.4, 1.5, 1.5, 1.45, 1.55], [1.25, 1.15, 1.15, 1.3, 1.3, 1.35, 1.4], [0.95, 0.9, 0.85, 1, 1.05, 1.05, 1.15],
  [0.8, 0.75, 0.7, 0.75, 0.9, 0.95, 1]
];
const lym1Mean = [1.1, 1.02, 0.97, 1.1, 1.12, 1.15, 1.45];

const lym2Blue = [
  [1.1, 1, 1.2, 1.1, 1.3, 1.1, 1.3], [0.95, 0.9, 0.9, 0.95, 0.9, 0.9, 1], [0.8, 0.75, 0.75, 0.8, 0.8, 0.75, 0.85],
  [0.65, 0.6, 0.6, 0.6, 0.65, 0.6, 0.7], [0.5, 0.45, 0.45, 0.5, 0.5, 0.5, 0.55], [0.4, 0.35, 0.35, 0.4, 0.4, 0.4, 0.45],
  [0.3, 0.25, 0.25, 0.3, 0.3, 0.3, 0.35], [1, 0.95, 1, 1, 1.05, 1, 1.1], [0.85, 0.8, 0.85, 0.85, 0.85, 0.85, 0.95],
  [0.7, 0.65, 0.65, 0.7, 0.7, 0.7, 0.8], [0.55, 0.5, 0.5, 0.55, 0.55, 0.55, 0.65], [0.45, 0.4, 0.4, 0.45, 0.45, 0.45, 0.5],
  [0.25, 0.2, 0.2, 0.25, 0.25, 0.25, 0.3]
];
const lym2Red = [
  [2, 1, 0.8, 0.9, 0.7, 0.8, 0.9], [1.2, 1.6, 1.25, 1.4, 1.1, 0.95, 1.1], [0.9, 0.85, 0.8, 0.85, 0.9, 1, 1],
  [0.7, 0.7, 0.6, 0.65, 0.7, 0.7, 0.8], [0.55, 0.5, 0.5, 0.5, 0.45, 0.5, 0.6], [0.35, 0.3, 0.3, 0.25, 0.3, 0.3, 0.35],
  [0.2, 0.2, 0.15, 0.15, 0.15, 0.1, 0.2], [0.1, 0.05, 0.1, 0.05, 0.05, 0.05, 0], [1, 0.95, 0.9, 0.95, 1, 0.95, 1.05],
  [0.8, 0.75, 0.7, 0.75, 0.8, 0.8, 0.85], [0.6, 0.55, 0.55, 0.6, 0.6, 0.6, 0.7], [0.45, 0.4, 0.4, 0.4, 0.4, 0.4, 0.5],
  [0.3, 0.25, 0.25, 0.2, 0.25, 0.2, 0.3]
];
const lym2Mean = [0.65, 0.52, 0.48, 0.45, 0.5, 0.47, 0.72];

const lym3Blue = [
  [0.4, 3.8, 3.3, 2.9, 2.5, 4.3, null], [3.6, 3.6, 3.5, 3.5, null, null, null], [3.1, 3.2, 3.3, 2.9, null, null, null],
  [2.8, 2.7, 2.75, 2.8, 2.85, 2.9, 2.95]
];
const lym3Red = [
  [5.5, 5.1, 4.7, 4.3, 4.35, 4.4, 4.5], [3, 2.9, 3.5, 3.3, 3.25, 3.2, 3.4], [2.4, 15, 3.1, 1.9, 1.6, 1.9, 2.1]
];
const lym3Mean = [2.95, 4.7, 3.5, 3.5, 3.45, 2.8, 3.4];

const lym4Blue = [
  [2.7, 2.5, 2.2, 2.3, 2.6, 2.6, 2.3], [2.5, 2.4, 2.3, 2.4, 2.4, 2.2, 2.1], [2.2, 2.1, 2.1, 2.2, 2.2, 2, 2],
  [2, 1.9, 1.9, 2, 2, 1.9, 1.9], [1.8, 1.7, 1.8, 1.8, 1.8, 1.7, 1.8], [1.6, 1.55, 1.6, 1.6, 1.6, 1.6, 1.7],
  [1.45, 1.4, 1.5, 1.5, 1.5, 1.45, 1.6], [1.3, 1.4, 1.4, 1.0, 1.3, 1.35, 1.5], [2.4, 2.3, 2.2, 2.2, 2.3, 2.3, 2.2],
  [2.1, 2, 2, 2.1, 2.1, 2, 2], [1.9, 1.8, 1.85, 1.9, 1.9, 1.8, 1.85], [1.7, 1.6, 1.7, 1.7, 1.7, 1.65, 1.75],
  [1.5, 1.45, 1.55, 1.55, 1.55, 1.5, 1.65]
];
const lym4Red = [
  [3.2, 2.8, 2.4, 2.1, 2.4, 2.3, 2.7], [2.4, 2.3, 2.2, 1.9, 1.7, 1.6, 1.5], [2.1, 1.9, 1.7, 1.6, 1.5, 1.5, 1.6],
  [1.9, 1.2, 1.25, 1.1, 1.6, 1.5, 1.55], [1.7, 1.3, 1.2, 1.5, 1.9, 2, 2.2], [2.3, 2.1, 2, 1.8, 1.8, 1.8, 1.9],
  [2, 1.7, 1.6, 1.7, 1.6, 1.7, 1.8]
];
const lym4Mean = [2.02, 1.8, 2, 1.95, 1.55, 1.8, 1.9];

// ---- build panels ----
const rowTicks = [crpTicks, ureaTicks, pltTicks, ldhTicks, neuTicks, wbcTicks, lymTicks];
const panels = [
  [[crp1Blue, crp1Red, crp1Mean], [crp2Blue, crp2Red, crp2Mean], [crp3Blue, crp3Red, crp3Mean], [crp4Blue, crp4Red, crp4Mean]],
  [[urea1Blue, urea1Red, urea1Mean], [urea2Blue, urea2Red, urea2Mean], [urea3Blue, urea3Red, urea3Mean], [urea4Blue, urea4Red, urea4Mean]],
  [[plt1Blue, plt1Red, plt1Mean], [plt2Blue, plt2Red, plt2Mean], [plt3Blue, plt3Red, plt3Mean], [plt4Blue, plt4Red, plt4Mean]],
  [[ldh1Blue, ldh1Red, ldh1Mean], [ldh2Blue, ldh2Red, ldh2Mean], [ldh3Blue, ldh3Red, ldh3Mean], [ldh4Blue, ldh4Red, ldh4Mean]],
  [[neu1Blue, neu1Red, neu1Mean], [neu2Blue, neu2Red, neu2Mean], [neu3Blue, neu3Red, neu3Mean], [neu4Blue, neu4Red, neu4Mean]],
  [[wbc1Blue, wbc1Red, wbc1Mean], [wbc2Blue, wbc2Red, wbc2Mean], [wbc3Blue, wbc3Red, wbc3Mean], [wbc4Blue, wbc4Red, wbc4Mean]],
  [[lym1Blue, lym1Red, lym1Mean], [lym2Blue, lym2Red, lym2Mean], [lym3Blue, lym3Red, lym3Mean], [lym4Blue, lym4Red, lym4Mean]]
];

const FONT = "DejaVu Sans";
const colLeft = [49.3, 314.3, 579.3, 845];
const plotW = 241.5, plotH = 160.5, rowTop0 = 37.3, rowStep = 236.35;

function toPoints(values) {
  return days.map((d, i) => [d, values[i] == null ? null : values[i]]);
}

function patientSeries(idx, values, color) {
  return {
    type: "line", xAxisIndex: idx, yAxisIndex: idx, data: toPoints(values),
    symbol: "circle", symbolSize: 2.6, showSymbol: true, connectNulls: false, clip: true,
    silent: true, animation: false, z: 2,
    lineStyle: { color: color, width: 0.9, opacity: 0.6 },
    itemStyle: { color: color, opacity: 0.9 },
    emphasis: { disabled: true }
  };
}

const grids = [], xAxes = [], yAxes = [], titles = [], series = [];

for (let r = 0; r < 7; r++) {
  const top = rowTop0 + r * rowStep;
  titles.push({
    text: rowLetters[r], left: 10, top: top - 27, padding: 0,
    textStyle: { fontSize: 20, fontWeight: "normal", fontFamily: FONT, color: "#000", lineHeight: 20 }
  });
  for (let c = 0; c < 4; c++) {
    const idx = r * 4 + c;
    // last column runs past the right edge of the page, as in the source figure
    grids.push({
      left: colLeft[c], top: top, width: plotW, height: plotH, outerBoundsMode: "none",
      show: true, borderColor: "#222", borderWidth: 1, backgroundColor: "#fff"
    });
    xAxes.push({
      gridIndex: idx, type: "value", min: -0.5, max: 6,
      axisLine: { show: true, onZero: false, lineStyle: { color: "#222", width: 1 } },
      axisTick: { show: true, length: 2.5, customValues: days, lineStyle: { color: "#222", width: 0.8 } },
      axisLabel: { customValues: days, fontSize: 6, margin: 3, color: "#111", fontFamily: FONT, formatter: v => String(v) },
      splitLine: { show: false },
      name: "Day since admission", nameLocation: "middle", nameGap: 11.5,
      nameTextStyle: { fontSize: 7.5, color: "#000", fontFamily: FONT }
    });
    yAxes.push({
      gridIndex: idx, type: "value", min: rowYMin[r], max: rowYMax[r],
      axisLine: { show: true, onZero: false, lineStyle: { color: "#222", width: 1 } },
      axisTick: { show: true, length: 2.5, customValues: rowTicks[r], lineStyle: { color: "#222", width: 0.8 } },
      axisLabel: {
        customValues: rowTicks[r], fontSize: 6, margin: 2.5, color: "#111", fontFamily: FONT,
        showMinLabel: true, showMaxLabel: true, formatter: v => String(v)
      },
      splitLine: { show: false },
      name: c === 0 ? rowUnits[r] : "", nameLocation: "middle", nameGap: 17,
      nameTextStyle: { fontSize: 6, color: "#000", fontFamily: FONT }
    });
    titles.push({
      text: rowNames[r] + " - Cluster #" + (c + 1) + "\n" + patientStats[r][c] + "\n" + mortalityStats[r][c],
      left: colLeft[c] + 1, top: top - 29.1, padding: 0,
      textStyle: { fontSize: 7.3, fontWeight: "normal", fontFamily: FONT, color: "#000", lineHeight: 9 }
    });

    // normal range band
    series.push({
      type: "line", xAxisIndex: idx, yAxisIndex: idx, data: [[-0.5, normalLow[r]], [6, normalLow[r]]],
      symbol: "none", lineStyle: { width: 0, opacity: 0 }, silent: true, animation: false, z: 1,
      markArea: {
        silent: true, animation: false,
        itemStyle: { color: "rgba(0, 128, 0, 0.11)" },
        data: [[{ yAxis: normalLow[r] }, { yAxis: normalHigh[r] }]]
      }
    });

    const [blueLines, redLines, meanLine] = panels[r][c];
    // interleave survivors and deaths so neither colour sits fully on top
    const n = Math.max(blueLines.length, redLines.length);
    for (let k = 0; k < n; k++) {
      if (k < blueLines.length) series.push(patientSeries(idx, blueLines[k], "#0000ff"));
      if (k < redLines.length) series.push(patientSeries(idx, redLines[k], "#ff0000"));
    }
    series.push({
      type: "line", xAxisIndex: idx, yAxisIndex: idx, data: toPoints(meanLine),
      symbol: "none", clip: true, silent: true, animation: false, z: 5,
      lineStyle: { color: "#000", width: 2.6, type: [7, 3.5] }
    });
  }
}

const chart = echarts.init(document.getElementById("chart"), null, { renderer: "canvas" });
chart.setOption({
  backgroundColor: "#fff",
  animation: false,
  title: titles,
  grid: grids,
  xAxis: xAxes,
  yAxis: yAxes,
  series: series
});
</script>
</body>
</html>
